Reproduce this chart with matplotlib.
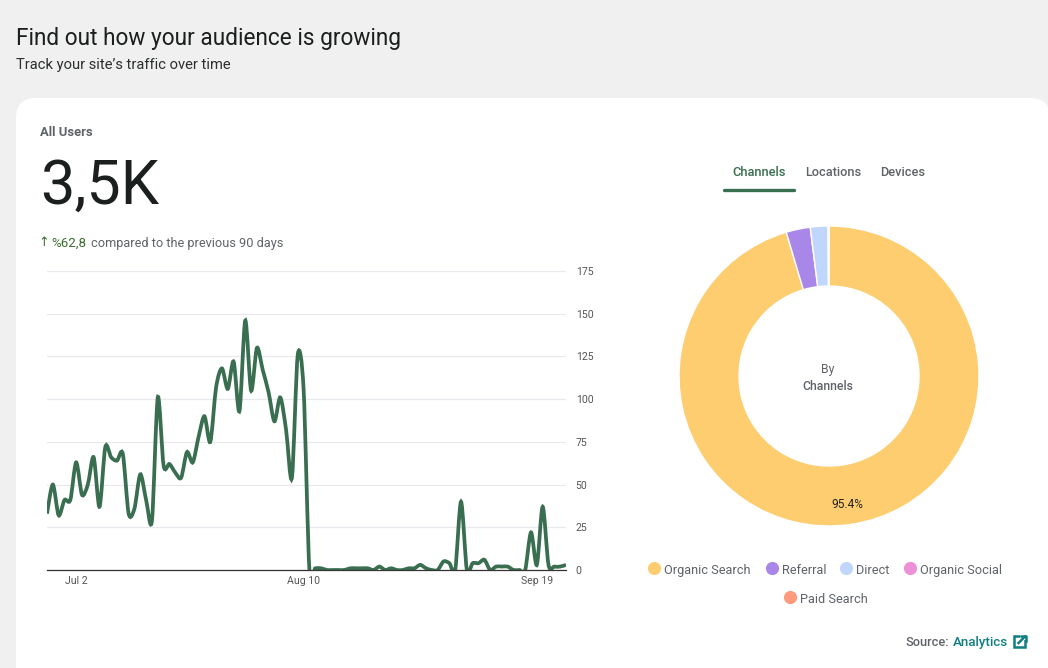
import numpy as np
import matplotlib
matplotlib.use('Agg')
import matplotlib.pyplot as plt
from matplotlib.path import Path
from matplotlib.patches import PathPatch, FancyBboxPatch, Rectangle

W, H = 1048, 668
FONT = 'Roboto'
GREEN = '#3a6e50'
GREY = '#5f6368'
DARK = '#1b1f1d'

users = [33, 50, 32, 41, 41, 63, 44, 50, 66, 37,
         72, 66, 64, 68, 33, 36, 56, 41, 29, 101,
         61, 62, 57, 54, 69, 63, 78, 90, 75, 107,
         118, 106, 122, 93, 146, 105, 130, 117, 104, 87,
         101, 82, 54, 126, 106, 0, 1, 1, 0, 0,
         0, 0, 1, 1, 1, 1, 0, 2, 0, 1,
         0, 0, 1, 1, 3, 1, 0, 0, 5, 4,
         0, 40, 0, 4, 4, 6, 0, 2, 2, 2,
         0, 0, 0, 22, 3, 37, 3, 2, 2, 3]
y_ticks = [0, 25, 50, 75, 100, 125, 150, 175]
x_tick_days = [5, 44, 84]
x_tick_labels = ['Jul 2', 'Aug 10', 'Sep 19']

channels = ['Organic Search', 'Referral', 'Direct', 'Organic Social', 'Paid Search']
shares = [95.4, 2.6, 1.9, 0.07, 0.03]
colors = ['#fdcd70', '#a987e8', '#c1d6fc', '#ee90d8', '#ff9a7c']


def px_axes(fig, left, top, right, bottom):
    return fig.add_axes([left / W, 1 - bottom / H, (right - left) / W, (bottom - top) / H])


def smooth_path(xs, ys, k=1 / 7):
    # catmull-rom through the data points, as bezier segments
    xs = np.asarray(xs, float)
    ys = np.asarray(ys, float)
    verts = [(xs[0], ys[0])]
    codes = [Path.MOVETO]
    for i in range(len(xs) - 1):
        a = max(i - 1, 0)
        b = min(i + 2, len(xs) - 1)
        verts.append((xs[i] + (xs[i + 1] - xs[a]) * k, ys[i] + (ys[i + 1] - ys[a]) * k))
        verts.append((xs[i + 1] - (xs[b] - xs[i]) * k, ys[i + 1] - (ys[b] - ys[i]) * k))
        verts.append((xs[i + 1], ys[i + 1]))
        codes += [Path.CURVE4] * 3
    return Path(verts, codes)


fig = plt.figure(figsize=(W / 100, H / 100), dpi=100, facecolor='#f0f0f0')
plt.rcParams['font.family'] = [FONT, 'DejaVu Sans']

# page layer, pixel coordinates
bg = fig.add_axes([0, 0, 1, 1])
bg.set_xlim(0, W)
bg.set_ylim(H, 0)
bg.axis('off')
bg.add_patch(FancyBboxPatch((16 + 20, 98 + 20), 1050 - 16 - 40, H, boxstyle='round,pad=20,rounding_size=20',
                            fc='white', ec='none'))

bg.text(16, 39, 'Find out how your audience is growing', fontsize=16.3, color=DARK, va='center')
bg.text(16, 65, 'Track your site’s traffic over time', fontsize=10.6, color='#2b2f2d', va='center')
bg.text(40, 132, 'All Users', fontsize=9.4, color=GREY, va='center', fontweight='bold')
bg.text(40, 187, '3,5K', fontsize=44, color=DARK, va='center')
bg.text(38.5, 242.5, '↑', fontsize=9.2, color='#3c6e2f', va='center', family='DejaVu Sans')
bg.text(51, 243, '%62,8', fontsize=9.6, color='#3c6e2f', va='center')
bg.text(91, 243, 'compared to the previous 90 days', fontsize=9.2, color=GREY, va='center')

# tabs
bg.text(759, 172.5, 'Channels', fontsize=9.2, color=GREEN, va='center', ha='center', fontweight='medium')
bg.text(833, 172.5, 'Locations', fontsize=9.2, color=GREY, va='center', ha='center', fontweight='medium')
bg.text(903, 172.5, 'Devices', fontsize=9.2, color=GREY, va='center', ha='center', fontweight='medium')
bg.plot([723.5, 793.5], [190, 190], color=GREEN, lw=2.4, solid_capstyle='round')

# line chart
ax = px_axes(fig, 47, 271, 566, 570)
ax.patch.set_alpha(0)
days = np.arange(len(users))
ax.add_patch(PathPatch(smooth_path(days, users), fc='none', ec=GREEN, lw=2.7, zorder=3))
ax.set_xlim(0, 89)
ax.set_ylim(0, 175)
ax.set_yticks(y_ticks)
ax.set_xticks(x_tick_days)
ax.set_xticklabels(x_tick_labels)
ax.yaxis.tick_right()
ax.grid(axis='y', color='#e8e8ee', lw=0.9)
ax.set_axisbelow(True)
for s in ['top', 'left', 'right']:
    ax.spines[s].set_visible(False)
ax.spines['bottom'].set_color('#333333')
ax.spines['bottom'].set_linewidth(0.9)
ax.spines['bottom'].set_zorder(4)
ax.tick_params(length=0, labelsize=7.6, labelcolor='#555555')
ax.tick_params(axis='y', pad=7)
ax.tick_params(axis='x', pad=4.5)

# donut
pie_ax = px_axes(fig, 679, 226, 979, 526)
pie_ax.patch.set_alpha(0)
pie_ax.pie(shares, colors=colors, startangle=90, counterclock=False, radius=1,
           wedgeprops=dict(width=0.4, edgecolor='white', linewidth=1),
           autopct=lambda p: '%.1f%%' % p if p > 50 else '', pctdistance=0.867,
           textprops=dict(fontsize=8.6, color='#222222'))
pie_ax.set_xlim(-1, 1)
pie_ax.set_ylim(-1, 1)
bg.text(828, 369, 'By', fontsize=8.8, color=GREY, ha='center', va='center')
bg.text(828, 386, 'Channels', fontsize=8.8, color=GREY, ha='center', va='center', fontweight='medium')

# legend
legend_pos = [(654, 568), (772, 568), (846, 568), (910, 568), (790, 597)]
for name, c, (lx, ly) in zip(channels, colors, legend_pos):
    bg.scatter([lx], [ly], s=90, color=c, linewidths=0)
    bg.text(lx + 10, ly + 1, name, fontsize=9.2, color=GREY, va='baseline' if False else 'center_baseline')

# source
bg.text(906, 642.5, 'Source:', fontsize=9.2, color=GREY, va='center', fontweight='medium')
bg.text(953, 642.5, 'Analytics', fontsize=9.6, color='#0f7f7f', va='center', fontweight='medium')
bg.add_patch(Rectangle((1014, 636), 11, 11, fc='none', ec='#0f7f7f', lw=1.8))
bg.add_patch(Rectangle((1019.5, 633.5), 8, 6.5, fc='white', ec='none'))
bg.plot([1018.5, 1025], [643, 636.5], color='#0f7f7f', lw=1.8)
bg.plot([1020.5, 1026, 1026], [635.5, 635.5, 641], color='#0f7f7f', lw=1.8)

fig.savefig('out.png', dpi=100, facecolor=fig.get_facecolor())
